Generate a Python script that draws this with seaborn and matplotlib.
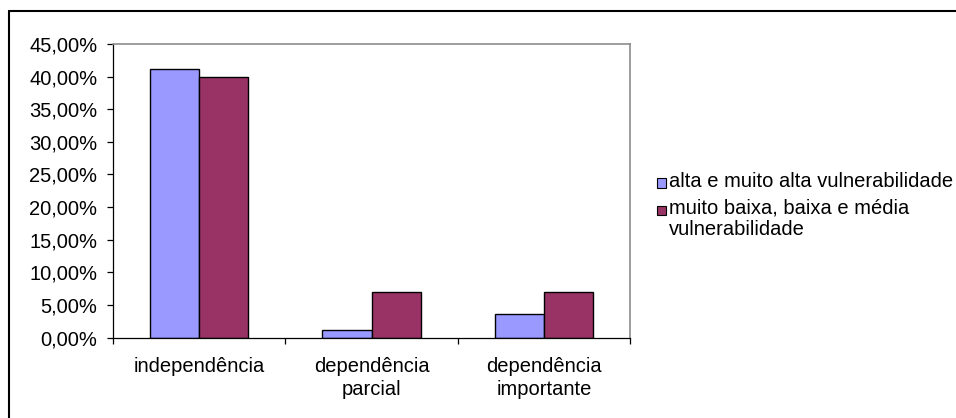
import matplotlib
matplotlib.use("Agg")
import matplotlib.pyplot as plt
from matplotlib.patches import Rectangle
from matplotlib.lines import Line2D
from matplotlib.ticker import FuncFormatter, FixedLocator
import seaborn as sns
import pandas as pd

categories = ["independência", "dependência\nparcial", "dependência\nimportante"]
series = ["alta e muito alta vulnerabilidade",
          "muito baixa, baixa e média\nvulnerabilidade"]
alta_vuln = [41.2, 1.2, 3.6]
baixa_vuln = [40.0, 7.0, 7.0]
colors = ["#9999FF", "#993366"]
yticks = [0, 5, 10, 15, 20, 25, 30, 35, 40, 45]

df = pd.DataFrame({
    "categoria": categories * 2,
    "grupo": [series[0]] * 3 + [series[1]] * 3,
    "valor": alta_vuln + baixa_vuln,
})

sns.set_style("white")
plt.rcParams["font.family"] = ["Liberation Sans", "DejaVu Sans"]
FS = 14.5

W, H = 956, 418
fig = plt.figure(figsize=(W / 100, H / 100), dpi=100)
L, R, T, B = 113, 630, 44, 337.5
ax = fig.add_axes([L / W, 1 - B / H, (R - L) / W, (B - T) / H])

sns.barplot(data=df, x="categoria", y="valor", hue="grupo",
            hue_order=series, palette=colors, order=categories,
            width=0.57, edgecolor="black", linewidth=1.0,
            saturation=1, legend=False, ax=ax)

ax.set_xlim(-0.5, 2.5)
ax.set_ylim(0, 45)
ax.set_xlabel("")
ax.set_ylabel("")

ax.yaxis.set_major_locator(FixedLocator(yticks))
ax.yaxis.set_major_formatter(FuncFormatter(lambda v, p: f"{v:.2f}%".replace(".", ",")))
ax.tick_params(axis="y", which="major", length=4.3, width=0.9, color="black",
               direction="out", left=True, pad=7, labelsize=FS, labelcolor="black")

ax.set_xticks(range(len(categories)))
ax.set_xticklabels(categories, fontsize=FS, color="black", linespacing=1.28)
ax.tick_params(axis="x", which="major", length=0, pad=14)
ax.set_xticks([-0.5, 0.5, 1.5, 2.5], minor=True)
ax.tick_params(axis="x", which="minor", length=4, width=0.9, color="black",
               direction="out", bottom=True)

for side in ("left", "bottom"):
    ax.spines[side].set_color("black")
    ax.spines[side].set_linewidth(0.9)
for side in ("top", "right"):
    ax.spines[side].set_visible(True)
    ax.spines[side].set_color("#8C8C8C")
    ax.spines[side].set_linewidth(1.2)
ax.grid(False)

# legend drawn in pixel positions on the figure
def fx(px):
    return px / W

def fy(py):
    return 1 - py / H

sq = 9
legend_rows = [(series[0], colors[0], 183), (series[1], colors[1], 210)]
for label, col, yc in legend_rows:
    fig.patches.append(Rectangle((fx(657), fy(yc + sq / 2)), sq / W, sq / H,
                                 transform=fig.transFigure, facecolor=col,
                                 edgecolor="black", linewidth=0.8))
    fig.text(fx(669), fy(yc - 11), label, fontsize=FS, va="top", ha="left",
             linespacing=1.12, color="black")

# chart-area frame
fig.add_artist(Line2D([fx(9), fx(9)], [fy(10.5), 0], transform=fig.transFigure,
                      color="black", linewidth=1.5))
fig.add_artist(Line2D([fx(9), 1], [fy(10.5), fy(10.5)], transform=fig.transFigure,
                      color="black", linewidth=1.5))

fig.savefig("out.png", dpi=100)
